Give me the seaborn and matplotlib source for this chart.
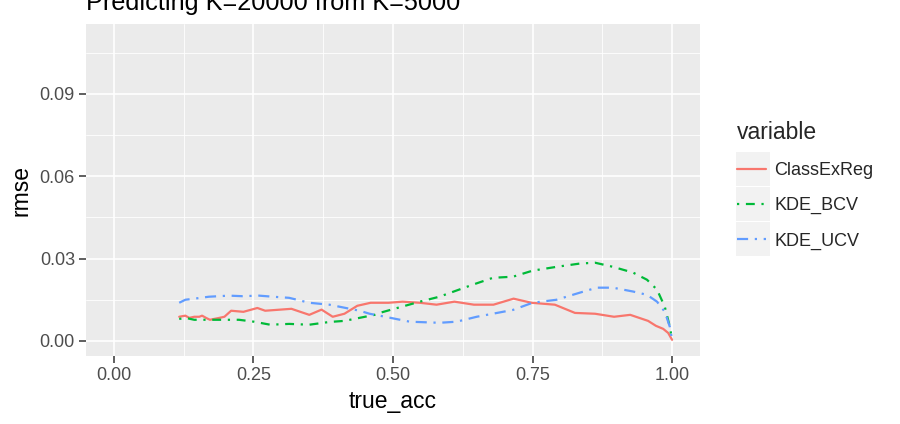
import pandas as pd
import matplotlib
matplotlib.use('Agg')
import matplotlib.pyplot as plt
import matplotlib.patches as mpatches
from matplotlib.ticker import MultipleLocator
import seaborn as sns

# values
cls_x = [0.117, 0.128, 0.135, 0.144, 0.153, 0.158, 0.165, 0.172, 0.189, 0.198, 0.210,
         0.232, 0.257, 0.271, 0.298, 0.318, 0.350, 0.372, 0.392, 0.413, 0.436, 0.460,
         0.492, 0.517, 0.548, 0.578, 0.610, 0.645, 0.680, 0.716, 0.748, 0.790, 0.826,
         0.862, 0.896, 0.925, 0.957, 0.971, 0.984, 0.993, 1.000]
cls_y = [0.0088, 0.0092, 0.0084, 0.0088, 0.0088, 0.0092, 0.0084, 0.0077, 0.0084, 0.0088, 0.0110,
         0.0106, 0.0120, 0.0110, 0.0114, 0.0117, 0.0095, 0.0114, 0.0088, 0.0099, 0.0128, 0.0139,
         0.0139, 0.0143, 0.0139, 0.0132, 0.0143, 0.0132, 0.0132, 0.0154, 0.0139, 0.0132, 0.0102,
         0.0099, 0.0088, 0.0095, 0.0073, 0.0055, 0.0044, 0.0029, 0.0004]

bcv_x = [0.117, 0.128, 0.144, 0.170, 0.198, 0.224, 0.251, 0.280, 0.314, 0.350, 0.386,
         0.413, 0.440, 0.467, 0.476, 0.548, 0.583, 0.643, 0.679, 0.715, 0.750, 0.793,
         0.835, 0.862, 0.894, 0.930, 0.955, 0.973, 0.987, 0.996, 1.000]
bcv_y = [0.0080, 0.0084, 0.0077, 0.0077, 0.0077, 0.0077, 0.0070, 0.0059, 0.0062, 0.0059, 0.0069,
         0.0073, 0.0084, 0.0095, 0.0102, 0.0143, 0.0161, 0.0205, 0.0230, 0.0234, 0.0256, 0.0270,
         0.0282, 0.0285, 0.0270, 0.0249, 0.0223, 0.0187, 0.0124, 0.0051, 0.0004]

ucv_x = [0.117, 0.128, 0.144, 0.170, 0.206, 0.230, 0.260, 0.285, 0.314, 0.350, 0.386,
         0.413, 0.440, 0.458, 0.476, 0.530, 0.583, 0.614, 0.650, 0.715, 0.750, 0.793,
         0.835, 0.865, 0.894, 0.930, 0.955, 0.973, 0.987, 0.996, 1.000]
ucv_y = [0.0139, 0.0150, 0.0154, 0.0161, 0.0165, 0.0163, 0.0165, 0.0161, 0.0157, 0.0139, 0.0132,
         0.0121, 0.0110, 0.0099, 0.0092, 0.0070, 0.0066, 0.0070, 0.0088, 0.0113, 0.0139, 0.0150,
         0.0176, 0.0194, 0.0194, 0.0180, 0.0168, 0.0143, 0.0106, 0.0051, 0.0004]

series = ['ClassExReg', 'KDE_BCV', 'KDE_UCV']
colors = ['#F8766D', '#00BA38', '#619CFF']
x_ticks = [0, 0.25, 0.5, 0.75, 1.0]
x_labels = ['0.00', '0.25', '0.50', '0.75', '1.00']
y_ticks = [0, 0.03, 0.06, 0.09]
y_labels = ['0.00', '0.03', '0.06', '0.09']

df = pd.concat([
    pd.DataFrame({'true_acc': cls_x, 'rmse': cls_y, 'variable': 'ClassExReg'}),
    pd.DataFrame({'true_acc': bcv_x, 'rmse': bcv_y, 'variable': 'KDE_BCV'}),
    pd.DataFrame({'true_acc': ucv_x, 'rmse': ucv_y, 'variable': 'KDE_UCV'}),
])

sns.set_theme(style='darkgrid', rc={
    'axes.facecolor': '#EBEBEB',
    'grid.color': 'white',
})
plt.rcParams['font.family'] = ['Liberation Sans', 'DejaVu Sans']

fig = plt.figure(figsize=(9, 4.24), dpi=100)
ax = fig.add_axes([86 / 900, 68 / 424, 614 / 900, 332 / 424])

dash_styles = {'ClassExReg': '', 'KDE_BCV': (1, 3, 4, 3), 'KDE_UCV': (5, 3, 1, 3)}
sns.lineplot(data=df, x='true_acc', y='rmse', hue='variable', style='variable',
             hue_order=series, style_order=series,
             palette=dict(zip(series, colors)), dashes=dash_styles,
             linewidth=1.6, sort=False, ax=ax, legend=False)

ax.set_xlim(-0.05, 1.05)
ax.set_ylim(-0.0055, 0.1155)
ax.xaxis.set_minor_locator(MultipleLocator(0.125))
ax.yaxis.set_minor_locator(MultipleLocator(0.015))
ax.set_xticks(x_ticks)
ax.set_xticklabels(x_labels)
ax.set_yticks(y_ticks)
ax.set_yticklabels(y_labels)
ax.grid(which='major', color='white', linewidth=1.2)
ax.grid(which='minor', color='white', linewidth=0.6)
ax.tick_params(which='major', length=5, width=1.1, color='#333333', labelcolor='#4D4D4D',
               labelsize=13, bottom=True, left=True, pad=3)
ax.tick_params(which='minor', length=0)
for s in ax.spines.values():
    s.set_visible(False)
ax.set_xlabel('true_acc', fontsize=16.5, color='black', labelpad=4)
ax.set_ylabel('rmse', fontsize=16.5, color='black', labelpad=5)

# title sits partly above the top edge, as in the reference
fig.text(86 / 900, 1 - 10 / 424, 'Predicting K=20000 from K=5000', fontsize=18.2,
         ha='left', va='baseline', color='black')

# ggplot-style legend with gray key boxes
handles = [plt.Line2D([], [], color=c, linewidth=1.6, linestyle=ls)
           for c, ls in zip(colors, ['-', (0, (1, 3, 4, 3)), (0, (5, 3, 1, 3))])]
leg = fig.legend(handles, series, title='variable', loc='upper left',
                 bbox_to_anchor=(737 / 900, 1 - 121 / 424), frameon=False,
                 fontsize=13, title_fontsize=16.5, handlelength=1.6,
                 labelspacing=1.0, handletextpad=0.45, borderaxespad=0,
                 borderpad=0)
leg._legend_box.align = 'left'

fig.canvas.draw()
inv = fig.transFigure.inverted()
for line in leg.get_lines():
    bb = line.get_window_extent()
    cy = (bb.y0 + bb.y1) / 2
    x0, y0 = inv.transform((736, cy - 17))
    x1, y1 = inv.transform((770, cy + 17))
    fig.patches.append(mpatches.Rectangle((x0, y0), x1 - x0, y1 - y0, transform=fig.transFigure,
                                          facecolor='#F2F2F2', edgecolor='none', zorder=0))

plt.savefig('out.png', dpi=100)
